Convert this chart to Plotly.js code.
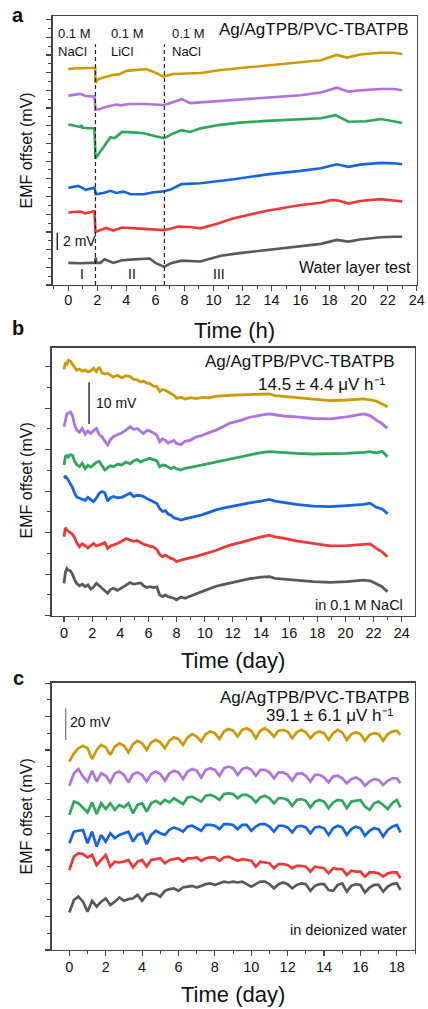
<!DOCTYPE html>
<html><head><meta charset="utf-8">
<script src="https://cdn.plot.ly/plotly-3.0.1.min.js"></script>
<style>html,body{margin:0;padding:0;background:#fff}#chart{width:428px;height:1009px}</style>
</head><body><div id="chart"></div>
<script>
// ---------- Panel a : water layer test (time in h, EMF offset in mV) ----------
const goldA_t = [0,0.5,1.0,1.85,1.87,2.0,2.2,2.6,3.1,3.5,4.0,5.0,5.4,6.0,6.55,7.2,8.0,9.1,10.5,11.8,13.7,15.5,17.4,18.5,19.2,20.1,21.5,22.4,23.0];
const goldA   = [24.4,24.5,24.5,24.55,22.8,23.2,23.35,23.5,23.75,23.8,24.2,24.35,24.37,24.0,23.55,23.85,23.9,23.95,24.3,24.5,24.8,25.05,25.4,26.0,25.7,26.05,26.25,26.25,26.1];
const purpleA_t = [0,0.4,0.8,1.2,1.8,1.87,2.2,2.5,3.0,3.3,3.6,4.2,5.2,6.0,6.6,7.1,7.8,8.4,9.2,10.5,11.8,13.7,16.0,17.4,18.5,19.3,20.1,21.5,22.4,23.0];
const purpleA   = [21.4,21.5,21.6,21.35,21.3,19.8,19.9,20.1,20.25,20.4,20.3,20.45,20.45,20.4,20.35,20.6,21.0,20.55,20.65,20.8,20.95,21.15,21.45,21.75,22.3,21.85,22.0,22.15,22.15,22.0];
const greenA_t = [0,0.5,0.85,0.9,0.95,1.3,1.8,1.87,2.45,2.9,3.2,3.7,4.4,5.2,6.0,6.6,7.2,7.8,8.4,9.1,10.45,11.8,13.7,16.0,17.4,18.4,19.3,20.5,21.5,22.4,23.0];
const greenA   = [18.15,17.95,17.85,18.1,17.8,17.72,17.72,14.3,15.6,16.7,16.6,17.3,17.25,17.15,16.8,16.6,17.1,17.5,17.3,17.7,18.1,18.35,18.55,18.75,18.85,19.2,18.45,18.5,18.75,18.5,18.3];
const blueA_t = [0,0.7,1.2,1.8,1.9,2.4,2.9,3.3,3.8,4.3,5.2,5.8,6.6,7.05,7.8,9.1,11.4,13.7,16.0,17.4,18.5,19.3,20.1,21.5,22.4,23.0];
const blueA   = [11.0,11.2,10.75,11.0,10.25,10.4,10.65,10.4,10.55,10.25,10.25,10.45,10.6,10.8,11.4,11.5,11.95,12.5,12.9,13.2,13.65,13.35,13.6,13.8,13.75,13.65];
const redA_t = [0,0.8,1.2,1.8,1.87,2.2,2.6,3.1,3.7,4.7,5.8,6.6,7.05,7.55,8.4,9.1,10.2,11.4,13.7,16.0,17.4,18.1,18.6,19.3,20.1,21.5,22.4,23.0];
const redA   = [8.2,8.3,8.1,8.35,6.0,6.2,6.45,6.15,6.5,6.4,6.33,6.2,6.35,6.6,6.55,6.4,6.9,7.55,8.4,9.05,9.3,9.6,9.55,9.2,9.5,9.7,9.55,9.45];
const grayA_t = [0,0.8,1.6,1.85,1.88,1.95,2.2,2.5,3.1,3.7,4.5,5.6,6.0,6.6,7.05,7.8,9.1,10.5,11.8,13.7,16.0,17.4,18.5,19.3,20.1,21.5,22.4,23.0];
const grayA   = [2.5,2.45,2.5,2.5,3.1,2.5,2.5,2.9,2.5,2.8,2.9,3.0,2.5,2.05,2.45,2.75,2.65,3.3,3.6,3.95,4.35,4.65,5.1,4.9,5.15,5.4,5.45,5.45];
const switchTimesA = [1.87, 6.62];           // solution changes (h)
const phaseLabelsA = ['I','II','III'];
const phaseCentersA = [0.92, 4.4, 10.4];
const solutionLabelsA = [['0.1 M','NaCl'],['0.1 M','LiCl'],['0.1 M','NaCl']];
const solutionStartsA = [-0.8, 2.9, 7.1];

// ---------- Panel b : 0.1 M NaCl (time in day) ----------
const dayB = [0,0.1,0.2,0.3,0.45,0.6,0.75,0.9,1.1,1.3,1.5,1.7,1.9,2.1,2.3,2.5,2.7,2.9,3.1,3.3,3.5,3.8,4.1,4.4,4.7,4.95,5.2,5.45,5.65,5.9,6.1,6.35,6.6,6.8,7.0,7.2,7.4,7.6,7.8,8.0,8.3,8.6,9.0,9.4,9.8,10.3,10.8,11.3,11.8,12.5,13.2,14.0,14.6,15.0,15.6,16.5,17.7,18.9,20.1,21.3,21.75,22.2,22.6,22.85,23.0];
const goldB = [59.3,61.0,60.6,61.5,61.3,60.5,59.6,59.1,59.4,58.9,59.2,58.7,59.0,59.6,58.8,59.9,58.5,58.2,58.4,57.9,57.5,57.9,57.3,57.8,57.6,56.9,56.8,56.3,56.5,56.0,55.9,55.3,55.2,54.0,54.5,54.3,53.8,53.5,53.1,52.4,52.6,52.2,52.5,52.3,52.6,52.5,52.8,53.0,53.1,53.2,53.3,53.4,53.4,53.0,52.8,52.5,52.1,51.8,51.95,52.2,52.0,51.7,51.0,50.5,50.3];
const purpleB = [45.5,47.5,48.6,48.8,49.1,48.2,46.0,44.7,44.2,45.1,43.7,44.5,43.9,44.6,45.1,43.6,43.1,42.0,41.1,42.4,43.1,43.6,44.0,44.7,45.5,44.9,45.1,44.4,43.9,44.6,44.5,44.0,43.5,41.9,42.6,42.3,41.6,41.9,42.2,41.5,41.2,42.0,42.3,43.1,43.4,44.1,44.7,45.5,46.4,47.0,47.8,48.3,48.6,48.4,48.1,47.9,47.5,47.4,47.9,48.6,48.2,47.1,46.3,45.5,45.2];
const greenB = [36.3,38.4,38.6,38.2,38.8,38.6,37.2,36.4,35.9,36.7,35.4,36.2,35.8,36.4,36.9,37.2,36.0,35.1,35.6,36.1,35.9,36.5,36.3,37.0,36.6,37.3,37.6,37.0,37.4,37.6,37.9,37.6,37.3,35.9,36.3,36.2,35.7,35.4,35.8,35.4,35.1,35.5,35.7,36.0,36.3,36.6,37.0,37.3,37.8,38.3,38.8,39.3,39.5,39.4,39.2,39.1,38.95,38.95,39.1,39.35,39.5,39.2,39.6,38.8,38.3];
const blueB = [33.1,33.5,33.2,32.6,32.0,30.9,29.6,28.6,28.3,28.0,27.8,28.5,27.9,27.5,28.3,29.5,29.9,29.6,27.6,28.4,28.7,28.4,28.5,29.1,29.5,28.7,29.0,28.9,28.7,28.2,27.9,27.5,27.0,25.8,25.1,25.3,24.5,24.2,23.6,23.4,23.05,23.3,23.6,23.9,24.3,24.9,25.5,25.9,26.26,26.8,27.2,27.6,28.0,27.6,27.3,26.8,26.4,26.25,26.5,26.8,27.1,26.1,25.7,24.9,24.6];
const redB = [19.0,21.2,20.6,20.4,20.1,19.6,18.8,17.6,16.6,17.3,16.9,16.3,16.9,17.4,16.8,17.0,17.3,17.6,16.2,16.8,17.0,17.4,17.9,18.6,18.2,17.9,18.1,17.6,17.2,17.0,16.7,16.6,15.9,14.8,14.2,14.6,14.1,13.8,13.6,13.0,13.4,13.6,13.9,14.3,14.7,15.2,15.7,16.4,17.0,17.6,18.3,19.0,19.4,19.0,18.7,18.0,17.4,16.8,16.9,17.2,17.3,16.2,15.4,14.6,14.2];
const grayB = [7.8,10.5,11.4,11.0,10.8,10.0,8.7,7.8,7.2,7.6,7.0,7.4,6.4,6.9,7.8,7.2,6.6,6.0,5.4,6.3,6.6,6.1,6.8,7.4,8.0,7.6,7.8,7.9,7.2,6.8,7.0,6.8,6.9,5.0,4.6,5.0,4.6,4.4,4.2,3.8,4.5,4.2,4.8,5.3,5.8,6.5,7.1,7.5,7.9,8.5,8.9,9.3,9.4,9.0,8.8,8.5,8.2,8.05,8.2,8.55,8.4,7.7,7.0,6.2,5.8];

// ---------- Panel c : deionized water (time in day) ----------
const dayC = [0,0.25,0.5,0.75,1,1.25,1.5,1.75,2,2.25,2.5,2.75,3,3.25,3.5,3.75,4,4.25,4.5,4.75,5,5.25,5.5,5.75,6,6.25,6.5,6.75,7,7.25,7.5,7.75,8,8.25,8.5,8.75,9,9.25,9.5,9.75,10,10.25,10.5,10.75,11,11.25,11.5,11.75,12,12.25,12.5,12.75,13,13.25,13.5,13.75,14,14.25,14.5,14.75,15,15.25,15.5,15.75,16,16.25,16.5,16.75,17,17.25,17.5,17.75,18,18.2];
const goldC = [113,118,121,122.5, 121,114.5,120,123, 121.5,117,122,124, 122.5,118.5,123.5,125.5, 124,120,124.5,126, 124.5,121,125.5,127.5, 126.5,123,127.5,129.5, 128,125,129.5,131, 130,126.5,131,132.5, 131.5,128,132,133, 131.5,127,131.5,133, 131,128,131.5,132, 131,127,130.5,132, 130.5,127,130,131, 130,126,130,132, 130.5,126,129.5,130.5, 129.5,125.5,129,130, 129.5,125.5,129.5,131, 131.5,129];
const purpleC = [98.5,106,108.5,104, 101,107.5,101,106, 104.5,100.5,106,107, 105,100.5,105.5,106.5, 105,101,105.5,107, 105.5,101.5,106,107.5, 106.5,102.5,107,108.5, 107.5,103.5,108,109, 108,104.5,109,110, 109,105,108.5,109.5, 108,104.5,108,108, 106.5,103,106.5,106.5, 105,101.5,105.5,106, 104.5,101,105,105, 103.5,100.5,104,104.5, 103,100,102.5,103.5, 102,98.5,101,102.5, 102,99,101.5,103, 103,100];
const greenC = [81,89,88,85.5, 82.5,88.5,81.5,88, 84.5,88,84,87, 85.5,88,82,87, 88,83,88,89.5, 87.5,90,88.5,91, 89.5,87.5,91.5,92, 90.5,89,92.5,93, 92,90,93.5,94, 93.5,91,93,93, 91.5,88.5,91.5,92.5, 91,88,91,91, 90,86.5,90,90.5, 89.5,85.5,89,90, 89,85,88.5,90, 89.5,85,89,89.5, 90,86,84,88, 89,87,84.5,88, 90,85.5];
const blueC = [64,71,71.5,72, 64,71,62,69, 65,70,67,69, 70,71,65,69, 70,63.5,69,71.5, 70,69,72,73.5, 72.5,71,74,74.5, 73,71.5,75,75, 74.5,72.5,75.5,75.5, 75,72.5,75,75, 71.5,74,75.5,75.5, 74,71,74.5,74.5, 73.5,70.5,74,74.5, 73.5,70,73.5,74, 73,69,73,74.5, 73.5,69,72.5,74, 73,68.5,71.5,73, 72.5,68,72,74, 75,70.5];
const redC = [48,56,58,57.5, 55.5,57,51,54, 57,50,53,52.5, 53,54,49.5,53, 54,50,54,54.5, 55,52,54,54.5, 55,53,55,55, 55.5,53.5,55,55.5, 55.5,53.5,55.5,56, 54.5,53.5,54.5,54, 53.5,50,53,52.5, 52,49,51.5,51.5, 51,49,50.5,50.5, 50,47,50,49.5, 49,46,49,48.5, 48.5,45,47.5,47, 47,44,46.5,46.5, 46,44,46,46.5, 46.5,43];
const grayC = [22.5,30,32,29, 23,29.5,26,29, 31,27,29,31.5, 29.5,30.5,31,33, 29.5,33,34,33.5, 32,35.5,36.5,37, 35.5,37.5,38,38.5, 37.5,38.5,39.5,40, 39,40,41,40.5, 41,40.5,41,39.5, 38,39.5,41,41, 39.5,37,39.5,40.5, 39.5,37,39,40, 39.5,35.5,38.5,39.5, 39.5,36,35.5,39, 40,35,38.5,39.5, 39,34.5,37.5,39, 39,35,38,39.5, 40,36];

const seriesColors = ['#CC9A06','#B072E0','#2EA65C','#1565E2','#EE3838','#595959'];

// ---------- helpers ----------
const W = 428, H = 1009;
const FONT = 'Liberation Sans, Arial, sans-serif';
const px = v => v / W, py = v => 1 - v / H;

function line(x, y, c, ax, w) {
  return {x: x, y: y, type: 'scatter', mode: 'lines', xaxis: 'x' + ax, yaxis: 'y' + ax,
          line: {color: c, width: w}, hoverinfo: 'skip', showlegend: false};
}
const traces = [];
const aX = [goldA_t, purpleA_t, greenA_t, blueA_t, redA_t, grayA_t];
const aY = [goldA, purpleA, greenA, blueA, redA, grayA];
const bY = [goldB, purpleB, greenB, blueB, redB, grayB];
const cY = [goldC, purpleC, greenC, blueC, redC, grayC];
for (let i = 5; i >= 0; i--) traces.push(line(aX[i], aY[i], seriesColors[i], '', 2.6));
for (let i = 5; i >= 0; i--) traces.push(line(dayB, bY[i], seriesColors[i], '2', 2.8));
for (let i = 5; i >= 0; i--) traces.push(line(dayC, cY[i], seriesColors[i], '3', 2.7));

const AXC = '#444';
function xax(dom, range, anchor, dtick, standoff) {
  return {domain: dom, range: range, anchor: anchor, showgrid: false, zeroline: false,
    showline: true, mirror: true, linecolor: AXC, linewidth: 1.3,
    ticks: 'outside', ticklen: 5, tickwidth: 1.2, tickcolor: AXC, tick0: 0, dtick: dtick,
    ticklabelstandoff: standoff,
    tickfont: {family: FONT, size: 14.5, color: '#111'},
    minor: {tick0: 0, dtick: dtick / 2, ticks: 'outside', ticklen: 3, tickwidth: 1, tickcolor: AXC}};
}
function yax(dom, range, anchor, dtick) {
  return {domain: dom, range: range, anchor: anchor, showgrid: false, zeroline: false,
    showline: true, mirror: true, linecolor: AXC, linewidth: 1.3, showticklabels: false,
    ticks: 'outside', ticklen: 5, tickwidth: 1.2, tickcolor: AXC, tick0: 0, dtick: dtick,
    minor: {tick0: 0, dtick: dtick / 2, ticks: 'outside', ticklen: 3, tickwidth: 1, tickcolor: AXC}};
}

function ann(text, x, y, size, xanchor, extra, weight) {
  return Object.assign({text: text, xref: 'paper', yref: 'paper', x: px(x), y: py(y),
    xanchor: xanchor || 'center', yanchor: 'middle', showarrow: false, borderpad: 0,
    font: {family: FONT, size: size, color: '#111', weight: weight || 'normal'}}, extra || {});
}

const annotations = [
  ann('a', 17.5, 14.7, 20, 'center', null, 'bold'),
  ann('b', 17.5, 327.5, 20, 'center', null, 'bold'),
  ann('c', 18, 678.2, 20, 'center', null, 'bold'),
  // panel a
  ann('Ag/AgTPB/PVC-TBATPB', 410, 29, 17, 'right'),
  ann('Water layer test', 412, 267.3, 16, 'right'),
  ann('2 mV', 61.7, 240.7, 14, 'left'),
  ann('Time (h)', 234.7, 330.5, 22),
  ann('EMF offset (mV)', 26.7, 150.8, 16, 'center', {textangle: -90}),
  // panel b
  ann('Ag/AgTPB/PVC-TBATPB', 396, 361.7, 17, 'right'),
  ann('14.5 ± 4.4 μV h⁻¹', 387, 384, 17, 'right'),
  ann('10 mV', 95, 403.3, 14, 'left'),
  ann('in 0.1 M NaCl', 404, 605, 14.5, 'right'),
  ann('Time (day)', 233, 660.5, 22),
  ann('EMF offset (mV)', 26.7, 480.7, 16, 'center', {textangle: -90}),
  // panel c
  ann('Ag/AgTPB/PVC-TBATPB', 410.7, 697.3, 17, 'right'),
  ann('39.1 ± 6.1 μV h⁻¹', 395, 715.7, 17, 'right'),
  ann('20 mV', 69, 721.7, 14, 'left'),
  ann('in deionized water', 408.3, 930, 14.5, 'right'),
  ann('Time (day)', 233.3, 994.5, 22),
  ann('EMF offset (mV)', 26.7, 816.7, 16, 'center', {textangle: -90})
];
// solution labels and phase labels of panel a (placed in data x coordinates)
solutionLabelsA.forEach((pair, i) => {
  annotations.push({text: pair[0], xref: 'x', yref: 'paper', x: solutionStartsA[i], y: py(33), xanchor: 'left', yanchor: 'middle', showarrow: false, borderpad: 0, font: {family: FONT, size: 13, color: '#111'}});
  annotations.push({text: pair[1], xref: 'x', yref: 'paper', x: solutionStartsA[i], y: py(52), xanchor: 'left', yanchor: 'middle', showarrow: false, borderpad: 0, font: {family: FONT, size: 13, color: '#111'}});
});
phaseLabelsA.forEach((t, i) => {
  annotations.push({text: t, xref: 'x', yref: 'paper', x: phaseCentersA[i], y: py(274.3), xanchor: 'center', yanchor: 'middle', showarrow: false, borderpad: 0, font: {family: FONT, size: 14, color: '#111'}});
});

const shapes = [];
switchTimesA.forEach(t => shapes.push({type: 'line', xref: 'x', yref: 'y', x0: t, x1: t, y0: 0, y1: 27.2,
  line: {color: '#222', width: 1.2, dash: '4px,3px'}}));
// scale bars
shapes.push({type: 'line', xref: 'x', yref: 'y', x0: -0.76, x1: -0.76, y0: 3.95, y1: 5.9, line: {color: '#111', width: 1.3}});
shapes.push({type: 'line', xref: 'x2', yref: 'y2', x0: 1.78, x1: 1.78, y0: 46.2, y1: 56.2, line: {color: '#111', width: 1.3}});
shapes.push({type: 'line', xref: 'x3', yref: 'y3', x0: -0.2, x1: -0.2, y0: 126, y1: 145, line: {color: '#666', width: 1.1}});

const layout = {
  width: W, height: H, margin: {l: 0, r: 0, t: 0, b: 0},
  paper_bgcolor: '#fff', plot_bgcolor: '#fff', showlegend: false,
  font: {family: FONT, color: '#111'},
  xaxis:  xax([px(52.5), px(417)], [-1.09, 24.02], 'y', 2, -4),
  yaxis:  yax([py(285), py(16)], [0, 30.4], 'x', 2),
  xaxis2: xax([px(51.5), px(414.5)], [-0.89, 24.91], 'y2', 2, -1),
  yaxis2: yax([py(615.7), py(347.7)], [0, 64.55], 'x2', 10),
  xaxis3: xax([px(51.7), px(415)], [-0.97, 19.0], 'y3', 2, -2),
  yaxis3: yax([py(950), py(682.7)], [0, 160.3], 'x3', 20),
  annotations: annotations, shapes: shapes
};
Plotly.newPlot('chart', traces, layout, {displayModeBar: false, staticPlot: true});
</script></body></html>
